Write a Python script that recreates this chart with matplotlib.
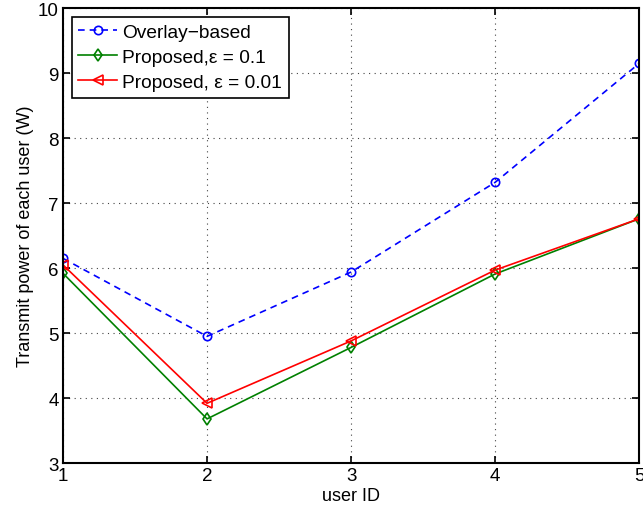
#!/usr/bin/env python3
"""Per-user transmit power: overlay baseline vs. proposed scheme at two tolerances."""

import matplotlib

matplotlib.use("Agg")

import matplotlib.pyplot as plt

plt.rcParams["font.family"] = ["Liberation Sans", "DejaVu Sans"]

user_ids = [1, 2, 3, 4, 5]
power_overlay = [6.15, 4.95, 5.94, 7.32, 9.15]
power_eps_01 = [5.92, 3.68, 4.78, 5.91, 6.76]
power_eps_001 = [6.05, 3.92, 4.88, 5.97, 6.76]

y_ticks = [3, 4, 5, 6, 7, 8, 9, 10]

fig = plt.figure(figsize=(6.43, 5.10), dpi=100)
ax = fig.add_axes([0.098, 0.090, 0.896, 0.892])

ax.plot(user_ids, power_overlay, linestyle=(0, (4, 3)), color="#0000ff", linewidth=1.2,
        marker="o", markersize=6, markerfacecolor="none", markeredgewidth=1.2,
        label="Overlay\u2212based")
ax.plot(user_ids, power_eps_01, linestyle="-", color="#008000", linewidth=1.2,
        marker="d", markersize=6, markerfacecolor="none", markeredgewidth=1.2,
        label="Proposed,\u03b5 = 0.1")
ax.plot(user_ids, power_eps_001, linestyle="-", color="#ff0000", linewidth=1.2,
        marker="<", markersize=7, markerfacecolor="none", markeredgewidth=1.2,
        label="Proposed, \u03b5 = 0.01")

ax.set_xlim(1, 5)
ax.set_ylim(3, 10)
ax.set_xticks(user_ids)
ax.set_yticks(y_ticks)
ax.tick_params(direction="in", length=5, width=1.2, labelsize=13.5, top=True, right=True, pad=3)
ax.grid(True, linestyle=(0, (1, 4)), color="#444444", linewidth=0.8)
for spine in ax.spines.values():
    spine.set_linewidth(1.5)

ax.set_xlabel("user ID", fontsize=13, labelpad=2)
ax.set_ylabel("Transmit power of each user (W)", fontsize=13, labelpad=3)

leg = ax.legend(loc="upper left", fontsize=13.8, frameon=True, fancybox=False,
                edgecolor="black", framealpha=1, borderaxespad=0.45,
                handlelength=2.0, handletextpad=0.3, labelspacing=0.4, borderpad=0.35)
leg.get_frame().set_linewidth(1.2)

fig.savefig("out.png", dpi=100)
